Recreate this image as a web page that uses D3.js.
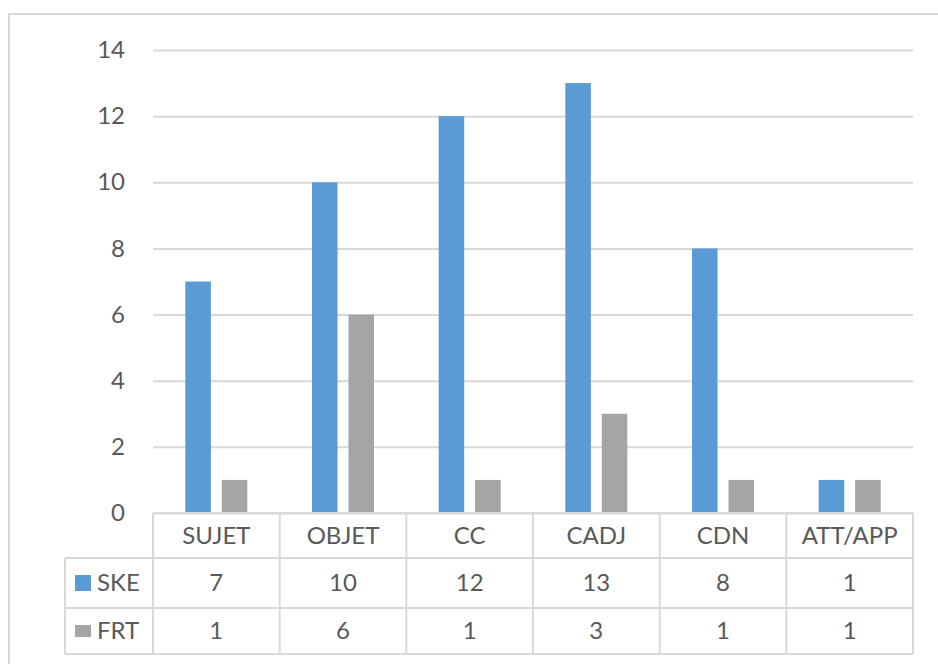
<!DOCTYPE html>
<html>
<head>
<meta charset="utf-8">
<script src="https://cdn.jsdelivr.net/npm/d3@7"></script>
<style>
  html, body { margin: 0; padding: 0; background: #fff; }
  svg { display: block; }
  text { font-family: Lato, "Liberation Sans", sans-serif; fill: #595959; }
</style>
</head>
<body>
<svg id="chart" width="938" height="664"></svg>
<script>
const categories = ["SUJET", "OBJET", "CC", "CADJ", "CDN", "ATT/APP"];
const seriesNames = ["SKE", "FRT"];
const skeValues = [7, 10, 12, 13, 8, 1];
const frtValues = [1, 6, 1, 3, 1, 1];
const yTicks = [0, 2, 4, 6, 8, 10, 12, 14];
const seriesColors = ["#5B9BD5", "#A5A5A5"];

const seriesValues = [skeValues, frtValues];

const W = 938, H = 664;
const plotLeft = 153, plotRight = 913;
const yTop = 50, yZero = 513;
const tableLeft = 65;
const rowY = [513, 558, 608, 654];
const gridColor = "#d9d9d9";
const fontSize = 24;

const svg = d3.select("#chart");

// outer chart border
svg.append("rect")
  .attr("x", 9).attr("y", 14)
  .attr("width", W).attr("height", H)
  .attr("fill", "none")
  .attr("stroke", gridColor)
  .attr("stroke-width", 2);

const x = d3.scaleBand().domain(categories).range([plotLeft, plotRight]).padding(0);
const xs = d3.scaleBand().domain(seriesNames).range([-31, 31]).paddingInner(0.3);
const y = d3.scaleLinear().domain([0, 14]).range([yZero, yTop]);

// y axis with gridlines
const yAxis = d3.axisLeft(y)
  .tickValues(yTicks)
  .tickSizeInner(-(plotRight - plotLeft))
  .tickSizeOuter(0)
  .tickPadding(28)
  .tickFormat(d3.format("d"));

const gy = svg.append("g")
  .attr("transform", `translate(${plotLeft},0)`)
  .call(yAxis);
gy.select(".domain").remove();
gy.selectAll(".tick line").attr("stroke", gridColor).attr("stroke-width", 2);
gy.selectAll(".tick text")
  .attr("font-size", fontSize)
  .attr("fill", "#595959")
  .style("font-family", "Lato, 'Liberation Sans', sans-serif");

// bars
const bars = svg.append("g");
seriesNames.forEach((s, si) => {
  bars.selectAll(null)
    .data(categories.map((c, i) => ({ c, v: seriesValues[si][i] })))
    .join("rect")
    .attr("x", d => x(d.c) + x.bandwidth() / 2 + xs(s))
    .attr("y", d => y(d.v))
    .attr("width", xs.bandwidth())
    .attr("height", d => y(0) - y(d.v))
    .attr("fill", seriesColors[si]);
});

// data table
const table = svg.append("g");
const line = (x1, y1, x2, y2) => table.append("line")
  .attr("x1", x1).attr("y1", y1).attr("x2", x2).attr("y2", y2)
  .attr("stroke", gridColor).attr("stroke-width", 2);

line(plotLeft, rowY[0], plotRight, rowY[0]);
for (let r = 1; r < rowY.length; r++) line(tableLeft, rowY[r], plotRight, rowY[r]);
line(tableLeft, rowY[1], tableLeft, rowY[3]);
categories.forEach(c => line(x(c), rowY[0], x(c), rowY[3]));
line(plotRight, rowY[0], plotRight, rowY[3]);

// header row
table.selectAll(null)
  .data(categories)
  .join("text")
  .attr("x", d => x(d) + x.bandwidth() / 2)
  .attr("y", (rowY[0] + rowY[1]) / 2)
  .attr("dy", "0.35em")
  .attr("text-anchor", "middle")
  .attr("font-size", fontSize)
  .text(d => d);

// value rows
seriesNames.forEach((s, si) => {
  const cy = (rowY[si + 1] + rowY[si + 2]) / 2;
  table.selectAll(null)
    .data(categories.map((c, i) => ({ c, v: seriesValues[si][i] })))
    .join("text")
    .attr("x", d => x(d.c) + x.bandwidth() / 2)
    .attr("y", cy)
    .attr("dy", "0.35em")
    .attr("text-anchor", "middle")
    .attr("font-size", fontSize)
    .text(d => d.v);

  // legend key
  const kh = si === 0 ? 16 : 12;
  table.append("rect")
    .attr("x", 75).attr("y", cy - kh / 2)
    .attr("width", 16).attr("height", kh)
    .attr("fill", seriesColors[si]);
  table.append("text")
    .attr("x", 97).attr("y", cy)
    .attr("dy", "0.35em")
    .attr("font-size", fontSize)
    .text(s);
});
</script>
</body>
</html>
